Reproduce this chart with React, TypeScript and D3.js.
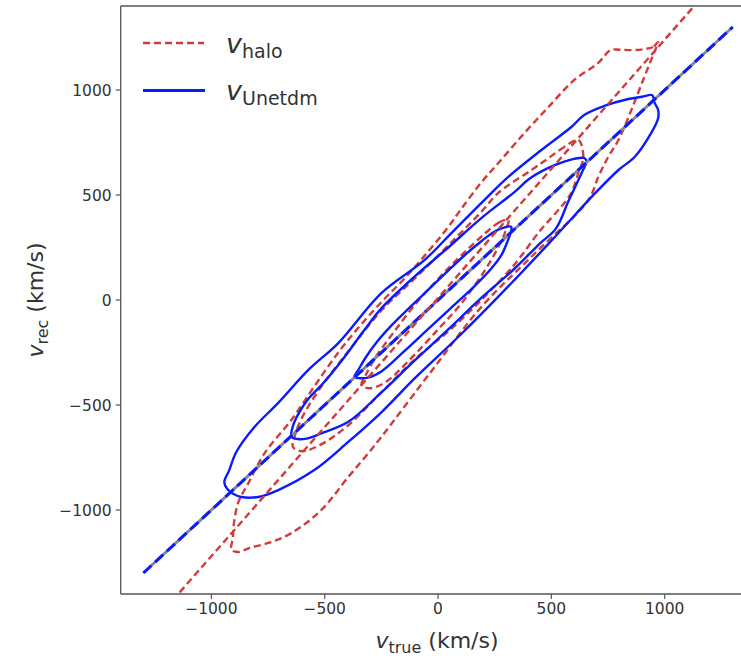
import React from "react";
import * as d3 from "d3";

const W = 741;
const H = 659;

const xTicks = [-1000, -500, 0, 500, 1000];
const yTicks = [-1000, -500, 0, 500, 1000];
const xDomain = [-1400, 1400];
const yDomain = [-1400, 1400];

// identity line and fitted line for v_halo
const identityLine: [number, number][] = [[-1300, -1300], [1300, 1300]];
const haloFitLine: [number, number][] = [[-1300, -1589], [1300, 1609]];

// v_Unetdm contours (outer, middle, inner)
const unetOuter: [number, number][] = [
  [945, 975], [900, 968], [840, 957], [734, 924], [645, 881], [588, 824], [456, 714], [310, 586],
  [204, 476], [60, 320], [-60, 190], [-250, 33], [-440, -205], [-572, -333], [-705, -490],
  [-810, -605], [-890, -724], [-921, -810], [-943, -867], [-930, -900], [-900, -925], [-868, -938],
  [-793, -938], [-705, -905], [-546, -810], [-396, -676], [-250, -535], [-100, -370], [90, -175],
  [266, 16], [487, 267], [600, 400], [690, 505], [796, 619], [867, 681], [940, 795], [971, 866],
  [971, 905], [955, 940],
];
const unetMiddle: [number, number][] = [
  [645, 676], [600, 672], [560, 660], [487, 629], [400, 575], [338, 515], [191, 390], [45, 250],
  [-105, 110], [-250, -40], [-325, -143], [-426, -290], [-510, -400], [-572, -470], [-615, -540],
  [-640, -600], [-647, -652], [-620, -662], [-580, -660], [-515, -635], [-396, -580], [-250, -440],
  [-105, -290], [45, -140], [191, 10], [338, 150], [450, 270], [520, 340], [575, 470], [610, 550],
  [640, 620], [655, 660],
];
const unetInner: [number, number][] = [
  [323, 348], [290, 345], [248, 325], [191, 280], [116, 212], [45, 140], [-30, 62], [-120, -30],
  [-200, -115], [-270, -200], [-320, -275], [-350, -330], [-369, -367], [-350, -372], [-310, -370],
  [-250, -340], [-150, -245], [-50, -145], [60, -35], [160, 65], [235, 150], [280, 215], [305, 275],
  [320, 320],
];

// v_halo contours (outer, middle, inner)
const haloOuter: [number, number][] = [
  [971, 1229], [949, 1205], [910, 1195], [860, 1190], [800, 1192], [760, 1190], [707, 1129],
  [601, 1048], [487, 919], [381, 795], [266, 652], [191, 560], [100, 430], [45, 348], [-60, 210],
  [-150, 100], [-250, -10], [-350, -130], [-440, -250], [-545, -410], [-647, -571], [-765, -729],
  [-836, -871], [-880, -960], [-900, -1060], [-905, -1130], [-911, -1190], [-880, -1200],
  [-830, -1180], [-748, -1157], [-647, -1110], [-515, -1000], [-396, -843], [-307, -729],
  [-250, -652], [-30, -340], [191, -33], [430, 225], [663, 476], [707, 586], [750, 680],
  [796, 762], [853, 905], [910, 1062], [949, 1167],
];
const haloMiddle: [number, number][] = [
  [619, 762], [557, 729], [480, 670], [412, 619], [266, 510], [191, 420], [45, 260], [-105, 100],
  [-250, -50], [-400, -250], [-520, -420], [-600, -560], [-630, -640], [-640, -700], [-600, -720],
  [-520, -690], [-400, -600], [-250, -440], [-100, -280], [45, -150], [191, 0], [338, 170],
  [450, 330], [540, 440], [588, 510], [619, 605], [641, 681],
];
const haloInner: [number, number][] = [
  [310, 381], [270, 370], [200, 310], [100, 210], [0, 100], [-100, -20], [-200, -160],
  [-280, -280], [-320, -360], [-338, -405], [-300, -420], [-230, -390], [-130, -290], [0, -140],
  [100, -20], [200, 130], [260, 240], [295, 320],
];

const unetContours = [unetOuter, unetMiddle, unetInner];
const haloContours = [haloOuter, haloMiddle, haloInner];

const fmt = (v: number) => (v < 0 ? "\u2212" + Math.abs(v) : String(v));

export default function App() {
  const left = 120.7;
  const top = 6;
  const bottom = 594;
  const right = left + 2800 * 0.22667;

  const x = d3.scaleLinear().domain(xDomain).range([left, right]);
  const y = d3.scaleLinear().domain(yDomain).range([bottom, top]);

  const closed = d3
    .line<[number, number]>()
    .x((d) => x(d[0]))
    .y((d) => y(d[1]))
    .curve(d3.curveCatmullRomClosed.alpha(0.5));
  const straight = d3
    .line<[number, number]>()
    .x((d) => x(d[0]))
    .y((d) => y(d[1]));

  const red = "#d03c3c";
  const blue = "#0a1cff";
  const font = "DejaVu Sans, sans-serif";

  return (
    <svg
      width={W}
      height={H}
      style={{ position: "absolute", left: 0, top: 0, background: "#fff" }}
      fontFamily={font}
    >
      <defs>
        <clipPath id="plotclip">
          <rect x={left} y={top} width={right - left} height={bottom - top} />
        </clipPath>
      </defs>
      <rect x={0} y={0} width={W} height={H} fill="#fff" />
      <g clipPath="url(#plotclip)" fill="none" strokeLinejoin="round">
        {haloContours.map((c, i) => (
          <path key={"h" + i} d={closed(c) || ""} stroke={red} strokeWidth={2.4} strokeDasharray="7,4" />
        ))}
        {unetContours.map((c, i) => (
          <path key={"u" + i} d={closed(c) || ""} stroke={blue} strokeWidth={2.4} />
        ))}
        <path d={straight(identityLine) || ""} stroke="#888" strokeWidth={3} />
        <path d={straight(identityLine) || ""} stroke={blue} strokeWidth={3} strokeDasharray="11,5" />
        <path d={straight(haloFitLine) || ""} stroke={red} strokeWidth={2.4} strokeDasharray="7,4" />
      </g>
      {/* spines */}
      <g stroke="#555" strokeWidth={1.3} fill="none">
        <line x1={left} y1={top} x2={left} y2={bottom} />
        <line x1={left} y1={bottom} x2={W} y2={bottom} />
        <line x1={left} y1={top} x2={W} y2={top} />
      </g>
      {xTicks.map((t) => (
        <g key={"xt" + t}>
          <line x1={x(t)} x2={x(t)} y1={bottom} y2={bottom + 5} stroke="#555" strokeWidth={1.2} />
          <text x={x(t)} y={bottom + 20} textAnchor="middle" fontSize={15.5} fill="#333">
            {fmt(t)}
          </text>
        </g>
      ))}
      {yTicks.map((t) => (
        <g key={"yt" + t}>
          <line x1={left - 5} x2={left} y1={y(t)} y2={y(t)} stroke="#555" strokeWidth={1.2} />
          <text x={left - 9} y={y(t)} dy="0.36em" textAnchor="end" fontSize={15.5} fill="#333">
            {fmt(t)}
          </text>
        </g>
      ))}
      {/* axis labels */}
      <text x={437} y={648} textAnchor="middle" fontSize={22} fill="#333">
        <tspan fontStyle="italic">v</tspan>
        <tspan fontSize={16} dy={5}>true</tspan>
        <tspan dy={-5}> (km/s)</tspan>
      </text>
      <text transform={`translate(43,${300}) rotate(-90)`} textAnchor="middle" fontSize={22} fill="#333">
        <tspan fontStyle="italic">v</tspan>
        <tspan fontSize={16} dy={5}>rec</tspan>
        <tspan dy={-5}> (km/s)</tspan>
      </text>
      {/* legend */}
      <line x1={143} x2={204} y1={43} y2={43} stroke={red} strokeWidth={2.4} strokeDasharray="7,4" />
      <line x1={143} x2={205} y1={90.5} y2={90.5} stroke={blue} strokeWidth={3.2} />
      <text x={226} y={53} fontSize={27} fill="#333">
        <tspan fontStyle="italic">v</tspan>
        <tspan fontSize={19} dy={5}>halo</tspan>
      </text>
      <text x={226} y={100} fontSize={27} fill="#333">
        <tspan fontStyle="italic">v</tspan>
        <tspan fontSize={19} dy={5}>Unetdm</tspan>
      </text>
    </svg>
  );
}
